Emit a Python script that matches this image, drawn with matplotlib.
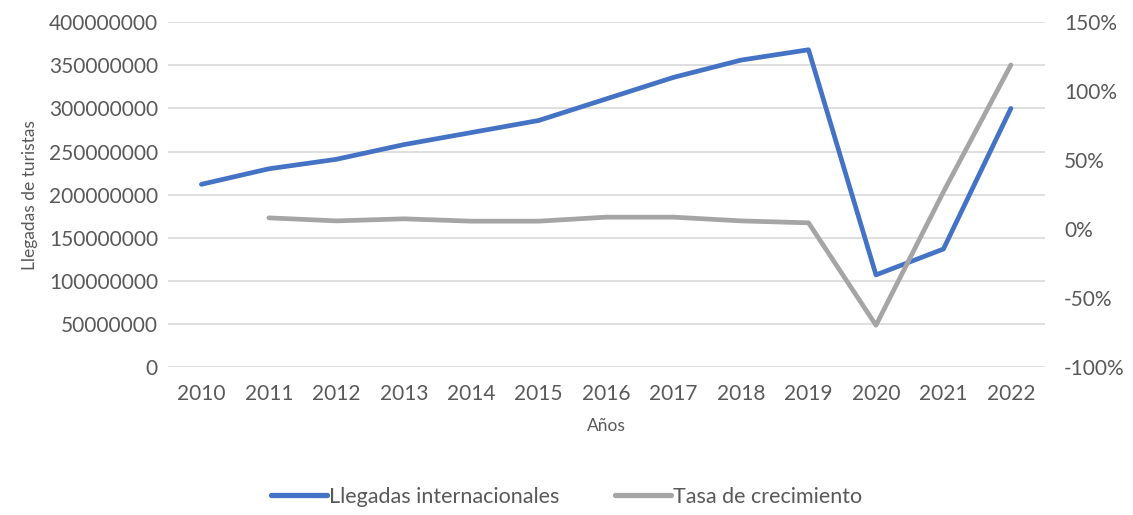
import matplotlib.pyplot as plt
from matplotlib.ticker import PercentFormatter, MultipleLocator
from matplotlib.lines import Line2D

plt.rcParams["font.family"] = ["Lato", "DejaVu Sans"]
plt.rcParams["axes.unicode_minus"] = False

years = ["2010", "2011", "2012", "2013", "2014", "2015", "2016",
         "2017", "2018", "2019", "2020", "2021", "2022"]
llegadas = [212e6, 230e6, 241e6, 258e6, 272e6, 286e6, 311e6,
            336e6, 356e6, 368e6, 107e6, 137e6, 300e6]
# growth rate (fraction), no value for 2010
tasa = [None, 0.082, 0.06, 0.075, 0.058, 0.058, 0.087,
        0.087, 0.06, 0.046, -0.696, 0.27, 1.19]

blue = "#4472C4"
grey = "#A5A5A5"
txt = "#595959"

fig = plt.figure(figsize=(11.33, 5.15), dpi=100)
ax = fig.add_axes([0.148, 0.287, 0.774, 0.670])
x = list(range(len(years)))

ax.plot(x, llegadas, color=blue, lw=3.4, solid_capstyle="round", zorder=3)
ax.set_ylim(0, 400e6)
ax.yaxis.set_major_locator(MultipleLocator(50e6))
ax.yaxis.set_major_formatter(lambda v, p: f"{int(v)}")
ax.set_xlim(-0.5, len(years) - 0.5)
ax.set_xticks(x)
ax.set_xticklabels(years)
ax.grid(axis="y", color="#D9D9D9", lw=1.2)
ax.set_axisbelow(True)
ax.tick_params(length=0, labelsize=15, colors=txt, pad=7)
ax.tick_params(axis="x", pad=12)
for s in ax.spines.values():
    s.set_visible(False)
ax.set_ylabel("Llegadas de turistas", fontsize=12.5, color=txt, labelpad=8)
ax.set_xlabel("Años", fontsize=12.5, color=txt, labelpad=10)

ax2 = ax.twinx()
xs = [i for i, v in zip(x, tasa) if v is not None]
vs = [v for v in tasa if v is not None]
ax2.plot(xs, vs, color=grey, lw=3.4, solid_capstyle="round", zorder=3)
ax2.set_ylim(-1.0, 1.5)
ax2.yaxis.set_major_locator(MultipleLocator(0.5))
ax2.yaxis.set_major_formatter(PercentFormatter(1.0, decimals=0))
ax2.tick_params(length=0, labelsize=15, colors=txt, pad=14)
for s in ax2.spines.values():
    s.set_visible(False)

handles = [Line2D([], [], color=blue, lw=3.8, solid_capstyle="round"),
           Line2D([], [], color=grey, lw=3.8, solid_capstyle="round")]
fig.legend(handles, ["Llegadas internacionales", "Tasa de crecimiento"],
           loc="center", bbox_to_anchor=(0.5, 0.035), ncol=2, frameon=False,
           fontsize=15.5, handlelength=2.6, handletextpad=0.1, columnspacing=2.6,
           labelcolor=txt)

fig.savefig("out.png", dpi=100)
